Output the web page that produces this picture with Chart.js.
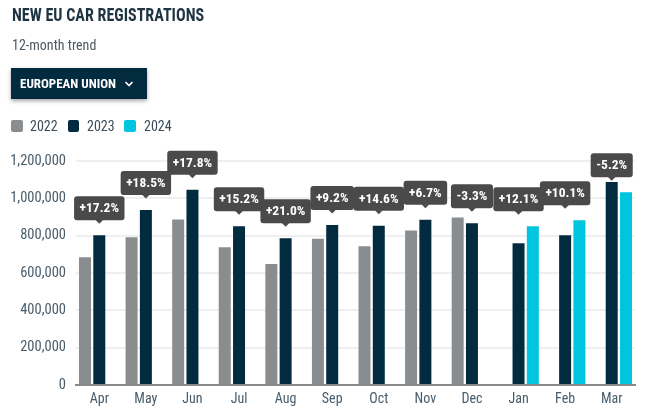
<!DOCTYPE html>
<html><head><meta charset="utf-8">
<script src="https://cdn.jsdelivr.net/npm/chart.js@4.4.1/dist/chart.umd.min.js"></script>
<style>
html,body{margin:0;padding:0;background:#fff;}
#wrap{position:relative;width:652px;height:416px;overflow:hidden;font-family:Roboto,sans-serif;}
#c{position:absolute;left:0;top:0;}
.t{position:absolute;white-space:nowrap;transform-origin:0 0;}
#title{left:12px;top:4.8px;font-size:19px;line-height:19px;font-weight:700;color:#1f3443;}
#sub{left:12px;top:38.2px;font-size:14px;line-height:14px;color:#4d5a63;}
#btn{position:absolute;left:11px;top:68px;width:136px;height:31px;background:#032b40;box-shadow:0 2px 4px rgba(0,0,0,0.35);}
#btnt{left:9px;top:8.5px;font-size:13px;line-height:13px;font-weight:700;color:#fff;}
#chev{position:absolute;left:113px;top:12px;}
.sq{position:absolute;top:120px;width:11.5px;height:11.5px;border-radius:2px;}
.lg{top:118.5px;font-size:14px;line-height:14px;color:#3b4d5a;}
</style></head>
<body>
<div id="wrap">
<canvas id="c" width="652" height="416"></canvas>
<div class="t" id="title">NEW EU CAR REGISTRATIONS</div>
<div class="t" id="sub">12-month trend</div>
<div id="btn"><div class="t" id="btnt">EUROPEAN UNION</div>
<svg id="chev" width="10" height="8" viewBox="0 0 10 8"><polyline points="1.5,2 5,5.5 8.5,2" fill="none" stroke="#fff" stroke-width="1.6"/></svg></div>
<div class="sq" style="left:11px;background:#8a8d8f"></div><div class="t lg" style="left:30px">2022</div>
<div class="sq" style="left:67.5px;background:#032b40"></div><div class="t lg" style="left:87px">2023</div>
<div class="sq" style="left:124px;background:#00c5de"></div><div class="t lg" style="left:144px">2024</div>
</div>
<script>
const categories = ['Apr','May','Jun','Jul','Aug','Sep','Oct','Nov','Dec','Jan','Feb','Mar'];
const values2022 = [685000,791000,887000,738000,648000,784000,743000,828000,897000,null,null,null];
const values2023 = [802000,938000,1046000,850000,786000,857000,853000,885000,866000,759000,802000,1088000];
const values2024 = [null,null,null,null,null,null,null,null,null,851000,882000,1032000];
const changeLabels = ['+17.2%','+18.5%','+17.8%','+15.2%','+21.0%','+9.2%','+14.6%','+6.7%','-3.3%','+12.1%','+10.1%','-5.2%'];
const seriesNames = ['2022','2023','2024'];
const yMax = 1200000;
const yStep = 200000;

function hasFont(name){
  const cv=document.createElement('canvas').getContext('2d');
  cv.font='40px monospace'; const a=cv.measureText('NEW EU CAR 12,000').width;
  cv.font='40px "'+name+'", monospace'; const b=cv.measureText('NEW EU CAR 12,000').width;
  return Math.abs(a-b)>0.5;
}
const COND = hasFont('Roboto Condensed');
const FAM = COND ? '"Roboto Condensed", Roboto, sans-serif' : 'Roboto, sans-serif';
const SX = COND ? 1 : 0.86;
document.querySelectorAll('.t').forEach(el=>{
  el.style.fontFamily = FAM;
  const s = el.id==='title' ? (COND?0.845:0.73) : SX;
  if(s!==1) el.style.transform='scaleX('+s+')';
});

const labelPlugin = {
  id:'changeLabels',
  afterDatasetsDraw(chart){
    const ctx=chart.ctx, xs=chart.scales.x, ys=chart.scales.y;
    ctx.save();
    ctx.font='bold 13.5px '+FAM;
    for(let i=0;i<categories.length;i++){
      const v = values2024[i]!=null ? values2024[i] : values2023[i];
      const x = xs.getPixelForValue(i);
      const top = ys.getPixelForValue(v);
      const bottom = top-15;
      const tw = ctx.measureText(changeLabels[i]).width*SX;
      const w = tw+11, h=24;
      const l = x-w/2, t = bottom-h;
      ctx.fillStyle='#4a4a4a';
      ctx.beginPath();
      ctx.roundRect(l,t,w,h,3);
      ctx.fill();
      ctx.beginPath();
      ctx.moveTo(x-4,bottom-0.5);ctx.lineTo(x+4,bottom-0.5);ctx.lineTo(x,bottom+3.5);ctx.closePath();ctx.fill();
      ctx.fillStyle='#fff';
      ctx.textAlign='center';ctx.textBaseline='middle';
      ctx.save();ctx.translate(x,t+h/2+0.5);ctx.scale(SX,1);
      ctx.fillText(changeLabels[i],0,0);
      ctx.restore();
    }
    ctx.restore();
  }
};

new Chart(document.getElementById('c'),{
  type:'bar',
  data:{labels:categories,datasets:[
    {label:seriesNames[0],data:values2022,backgroundColor:'#8a8d8f'},
    {label:seriesNames[1],data:values2023,backgroundColor:'#032b40'},
    {label:seriesNames[2],data:values2024,backgroundColor:'#00c5de'}
  ]},
  options:{
    responsive:false,animation:false,devicePixelRatio:1,
    categoryPercentage:0.92,barPercentage:0.84,
    layout:{padding:{top:161,right:17,left:0,bottom:0}},
    plugins:{legend:{display:false},tooltip:{enabled:false}},
    scales:{
      x:{grid:{display:false,drawTicks:false},border:{display:true,color:'#8a8a8a',width:2},
         ticks:{color:'#485c6a',font:{family:FAM,size:COND?14:12.5},padding:6},
         afterFit(s){s.height=31;}},
      y:{min:0,max:yMax,grid:{color:'#efefef',lineWidth:2,drawTicks:false},border:{display:false},
         ticks:{stepSize:yStep,color:'#485c6a',font:{family:FAM,size:COND?14.5:12.5},padding:10,
           callback:v=>v.toLocaleString('en-US')},
         afterFit(s){s.width=76;}}
    }
  },
  plugins:[labelPlugin]
});
</script>
</body></html>
